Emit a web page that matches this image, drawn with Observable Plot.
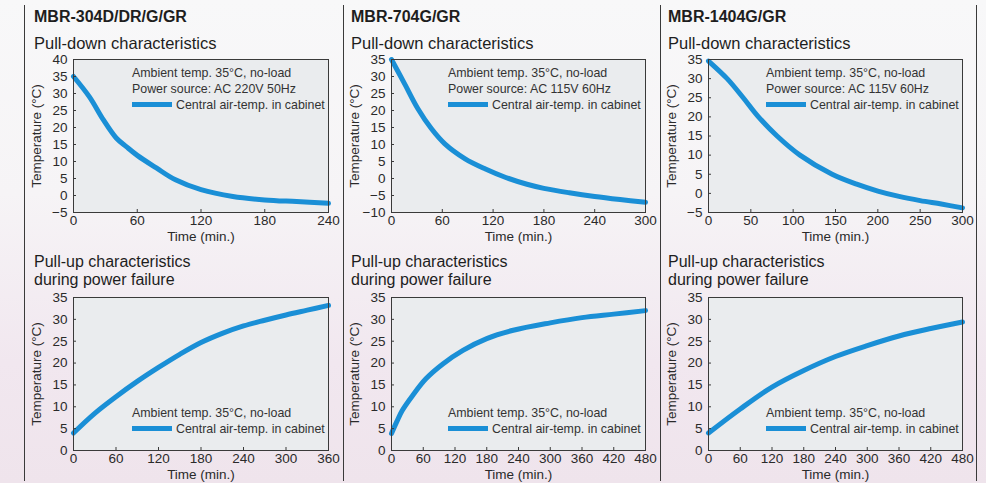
<!DOCTYPE html>
<html><head><meta charset="utf-8">
<script src="https://cdn.jsdelivr.net/npm/d3@7"></script>
<script src="https://cdn.jsdelivr.net/npm/@observablehq/plot@0.6"></script>
<style>
body{margin:0;background:#f6f4f6;}
#page{position:relative;width:986px;height:483px;overflow:hidden;font-family:"Liberation Sans",Arial,sans-serif;color:#1e1e1e;
 background:linear-gradient(to bottom,#f8f8f9 0%,#f6f4f6 40%,#f1e7ef 75%,#efe4ec 100%);}
.abs{position:absolute;white-space:nowrap}
.model{font-weight:bold;font-size:16px;line-height:16px}
.sub{font-size:16.5px;line-height:16px}
.sub2{font-size:16px;line-height:16px}
.leg{font-size:12.4px;line-height:16px;color:#333}
.sw{display:inline-block;width:40px;height:5px;background:#1a8fd6;vertical-align:middle;margin-right:4px;position:relative;top:-1px}
.vline{position:absolute;width:1.4px;background:#3a3a3a;top:5px;height:476px}
svg{overflow:visible}
</style></head>
<body><div id="page"></div>
<script>
// ---- data ----
const models = ["MBR-304D/DR/G/GR", "MBR-704G/GR", "MBR-1404G/GR"];
const powerSources = ["Power source: AC 220V 50Hz", "Power source: AC 115V 60Hz", "Power source: AC 115V 60Hz"];
const ambientText = "Ambient temp. 35°C, no-load";
const seriesName = "Central air-temp. in cabinet";

// Pull-down characteristics
const pdTime304 = [0, 15, 28, 40, 50, 60, 78, 96, 120, 150, 180, 210, 240];
const pdTemp304 = [35, 29, 22.3, 17, 14.3, 11.8, 8.1, 4.6, 1.7, -0.3, -1.3, -1.8, -2.3];
const pdTime704 = [0, 16, 31, 47, 63, 87, 111, 135, 160, 180, 210, 240, 270, 300];
const pdTemp704 = [35, 27.6, 20.6, 14.7, 10.2, 5.8, 2.8, 0.3, -1.7, -2.9, -4.2, -5.3, -6.2, -7];
const pdTime1404 = [0, 22, 41, 59, 81, 108, 146, 175, 200, 225, 250, 275, 300];
const pdTemp1404 = [34.6, 30, 25, 20, 15, 10, 5, 2.4, 0.6, -0.8, -1.9, -2.8, -3.8];

// Pull-up characteristics during power failure
const puTime304 = [0, 30, 60, 90, 120, 150, 180, 210, 240, 270, 300, 330, 360];
const puTemp304 = [4, 8.5, 12.3, 15.8, 19, 22, 24.7, 26.8, 28.5, 29.8, 31, 32.1, 33.2];
const puTime704 = [0, 10, 20, 40, 65, 97, 135, 180, 230, 300, 360, 420, 480];
const puTemp704 = [3.9, 6.6, 9.1, 12.6, 16.4, 19.8, 22.9, 25.6, 27.5, 29.2, 30.4, 31.2, 32];
const puTime1404 = [0, 60, 120, 180, 240, 300, 360, 420, 480];
const puTemp1404 = [4, 9.5, 14.5, 18.3, 21.5, 24, 26.2, 27.9, 29.4];

// tick labels
const xTicks240 = [0, 60, 120, 180, 240];
const xTicks300a = [0, 60, 120, 180, 240, 300];
const xTicks300b = [0, 50, 100, 150, 200, 250, 300];
const xTicks360 = [0, 60, 120, 180, 240, 300, 360];
const xTicks480 = [0, 60, 120, 180, 240, 300, 360, 420, 480];
const yTicksA = [-5, 0, 5, 10, 15, 20, 25, 30, 35, 40];
const yTicksB = [-10, -5, 0, 5, 10, 15, 20, 25, 30, 35];
const yTicksC = [-5, 0, 5, 10, 15, 20, 25, 30, 35];
const yTicksD = [0, 5, 10, 15, 20, 25, 30, 35];

// ---- layout ----
const page = document.getElementById("page");
const LINE = "#1a8fd6";
const colX = [73, 391, 708];     // left edge of each plot frame
const frameW = [255, 254, 254];
const titleX = [34, 351, 668];
const divX = [24, 343, 660, 976];
const topRowTop = 59, botRowTop = 297, frameH = 153;

function addDiv(cls, x, y, html) {
  const d = document.createElement("div");
  d.className = "abs " + cls;
  d.style.left = x + "px"; d.style.top = y + "px";
  d.innerHTML = html;
  page.appendChild(d);
  return d;
}

divX.forEach(x => { const v = document.createElement("div"); v.className = "vline"; v.style.left = x + "px"; page.appendChild(v); });

function panel(i, frameTop, time, temp, xTicks, yTicks) {
  const data = time.map((t, k) => ({t, v: temp[k]}));
  const mL = 50, mT = 10, mB = 34, mR = 20;
  const W = mL + frameW[i] + mR, H = mT + frameH + mB;
  const xDom = [xTicks[0], xTicks[xTicks.length - 1]];
  const yDom = [yTicks[0], yTicks[yTicks.length - 1]];
  const svg = Plot.plot({
    width: W, height: H, marginLeft: mL, marginRight: mR, marginTop: mT, marginBottom: mB,
    style: {background: "transparent", fontSize: "13.5px", fontFamily: '"Liberation Sans", Arial, sans-serif', color: "#2a2a2a", overflow: "visible"},
    x: {domain: xDom},
    y: {domain: yDom},
    marks: [
      Plot.frame({fill: "#eaecee"}),
      Plot.line(data, {x: "t", y: "v", stroke: LINE, strokeWidth: 5, curve: "catmull-rom"}),
      Plot.frame({stroke: "#3a3a3a"}),
      Plot.axisX({ticks: xTicks, tickSize: 3, dy: -3, tickFormat: () => "", label: null, stroke: "#3a3a3a"}),
      Plot.axisY({ticks: yTicks, tickSize: 3, dx: 3, tickFormat: () => "", label: null, stroke: "#3a3a3a"}),
      Plot.axisX({ticks: xTicks, tickSize: 0, tickPadding: 3, label: "Time (min.)", labelAnchor: "center", labelArrow: "none", labelOffset: 28}),
      Plot.axisY({ticks: yTicks, tickSize: 0, tickPadding: 6, label: "Temperature (°C)", labelAnchor: "center", labelArrow: "none", labelOffset: 42})
    ]
  });
  svg.style.position = "absolute";
  svg.style.left = (colX[i] - mL) + "px";
  svg.style.top = (frameTop - mT) + "px";
  page.appendChild(svg);
}

const pd = [[pdTime304, pdTemp304, xTicks240, yTicksA], [pdTime704, pdTemp704, xTicks300a, yTicksB], [pdTime1404, pdTemp1404, xTicks300b, yTicksC]];
const pu = [[puTime304, puTemp304, xTicks360, yTicksD], [puTime704, puTemp704, xTicks480, yTicksD], [puTime1404, puTemp1404, xTicks480, yTicksD]];
const legX = [132, 448, 766];

for (let i = 0; i < 3; i++) {
  addDiv("model", titleX[i], 9, models[i]);
  addDiv("sub", titleX[i], 35, "Pull-down characteristics");
  addDiv("sub2", titleX[i], 254, "Pull-up characteristics");
  addDiv("sub2", titleX[i], 272, "during power failure");
  panel(i, topRowTop, ...pd[i]);
  panel(i, botRowTop, ...pu[i]);
  addDiv("leg", legX[i], 65, ambientText + "<br>" + powerSources[i] + "<br><span class='sw'></span>" + seriesName);
  addDiv("leg", legX[i], 405, ambientText + "<br><span class='sw'></span>" + seriesName);
}
</script></body></html>
